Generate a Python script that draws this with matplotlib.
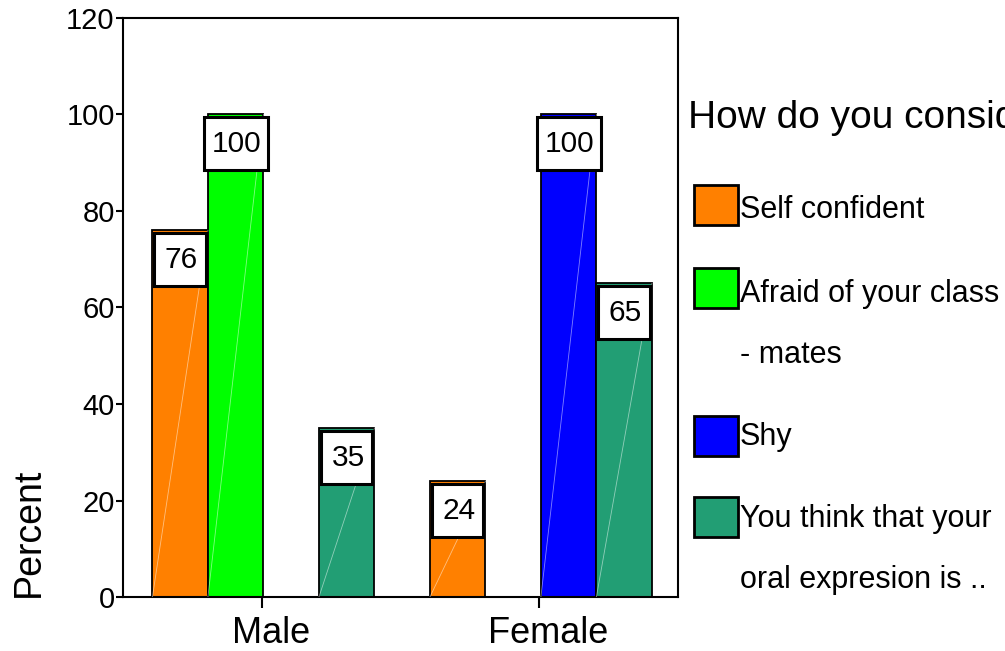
import matplotlib.pyplot as plt
from matplotlib.patches import Rectangle
from matplotlib.transforms import ScaledTranslation
import numpy as np

plt.rcParams['font.family'] = ['Liberation Sans', 'DejaVu Sans']

groups = ["Male", "Female"]
series = ["Self confident", "Afraid of your class\n- mates", "Shy",
          "You think that your\noral expresion is .."]
colors = ["#FF8000", "#00FF00", "#0000FF", "#229E74"]
self_confident = [76, 24]
afraid = [100, 0]
shy = [0, 100]
oral = [35, 65]
values = [self_confident, afraid, shy, oral]
legend_title = "How do you consider yourself"

fig = plt.figure(figsize=(10.05, 6.51), dpi=100)
ax = fig.add_axes([0.1224, 0.0829, 0.5522, 0.8895])

x = np.arange(len(groups))
width = 0.2
offsets = (np.arange(len(series)) - 1.5) * width + 0.006

for i, vals in enumerate(values):
    bars = ax.bar(x + offsets[i], vals, width, color=colors[i],
                  edgecolor="black", linewidth=1.3, zorder=2)
    for b, v in zip(bars, vals):
        if v <= 0:
            continue
        x0 = b.get_x()
        # faint diagonal stroke like the original export
        ax.plot([x0, x0 + width], [0, v], color="white", lw=0.6,
                alpha=0.5, zorder=3)
        s = f"{v}"
        bw = max(0.93 * width, 0.075 * len(s) + 0.005)
        cx = x0 + width / 2
        ax.add_patch(Rectangle((cx - bw / 2, v - 11.6), bw, 11.0,
                               fc="white", ec="black", lw=2.2, zorder=4))
        ax.text(cx + 0.005, v - 6.1, s, ha="center", va="center",
                fontsize=21.5, zorder=5)

ax.set_xlim(-0.5, 1.5)
ax.set_ylim(0, 120)
ax.set_yticks(np.arange(0, 121, 20))
ax.set_xticks(x)
ax.set_xticklabels(groups, fontsize=26)
ax.tick_params(axis="y", labelsize=21, length=5, width=1.5, pad=1)
ax.tick_params(axis="x", length=8, width=1.5, pad=6)
for lbl in ax.get_xticklabels():
    lbl.set_transform(lbl.get_transform() +
                      ScaledTranslation(0.09, 0, fig.dpi_scale_trans))
for s in ax.spines.values():
    s.set_linewidth(1.5)
ax.set_ylabel("Percent", fontsize=27, loc="bottom", labelpad=14)

# manual legend (SPSS style)
W, H = 1005, 651
fig.text(688 / W, 1 - 128 / H, legend_title, fontsize=28, va="baseline")
patch_tops = [185, 268, 416, 497]
baselines = [218, 302, 445, 527]
for col, lab, top, base in zip(colors, series, patch_tops, baselines):
    fig.patches.append(Rectangle((694 / W, 1 - (top + 40) / H), 44 / W, 40 / H,
                                 transform=fig.transFigure, fc=col,
                                 ec="black", lw=2))
    for k, line in enumerate(lab.split("\n")):
        fig.text(740 / W, 1 - (base + 61 * k) / H, line, fontsize=22,
                 va="baseline")

fig.savefig("out.png", dpi=100)
